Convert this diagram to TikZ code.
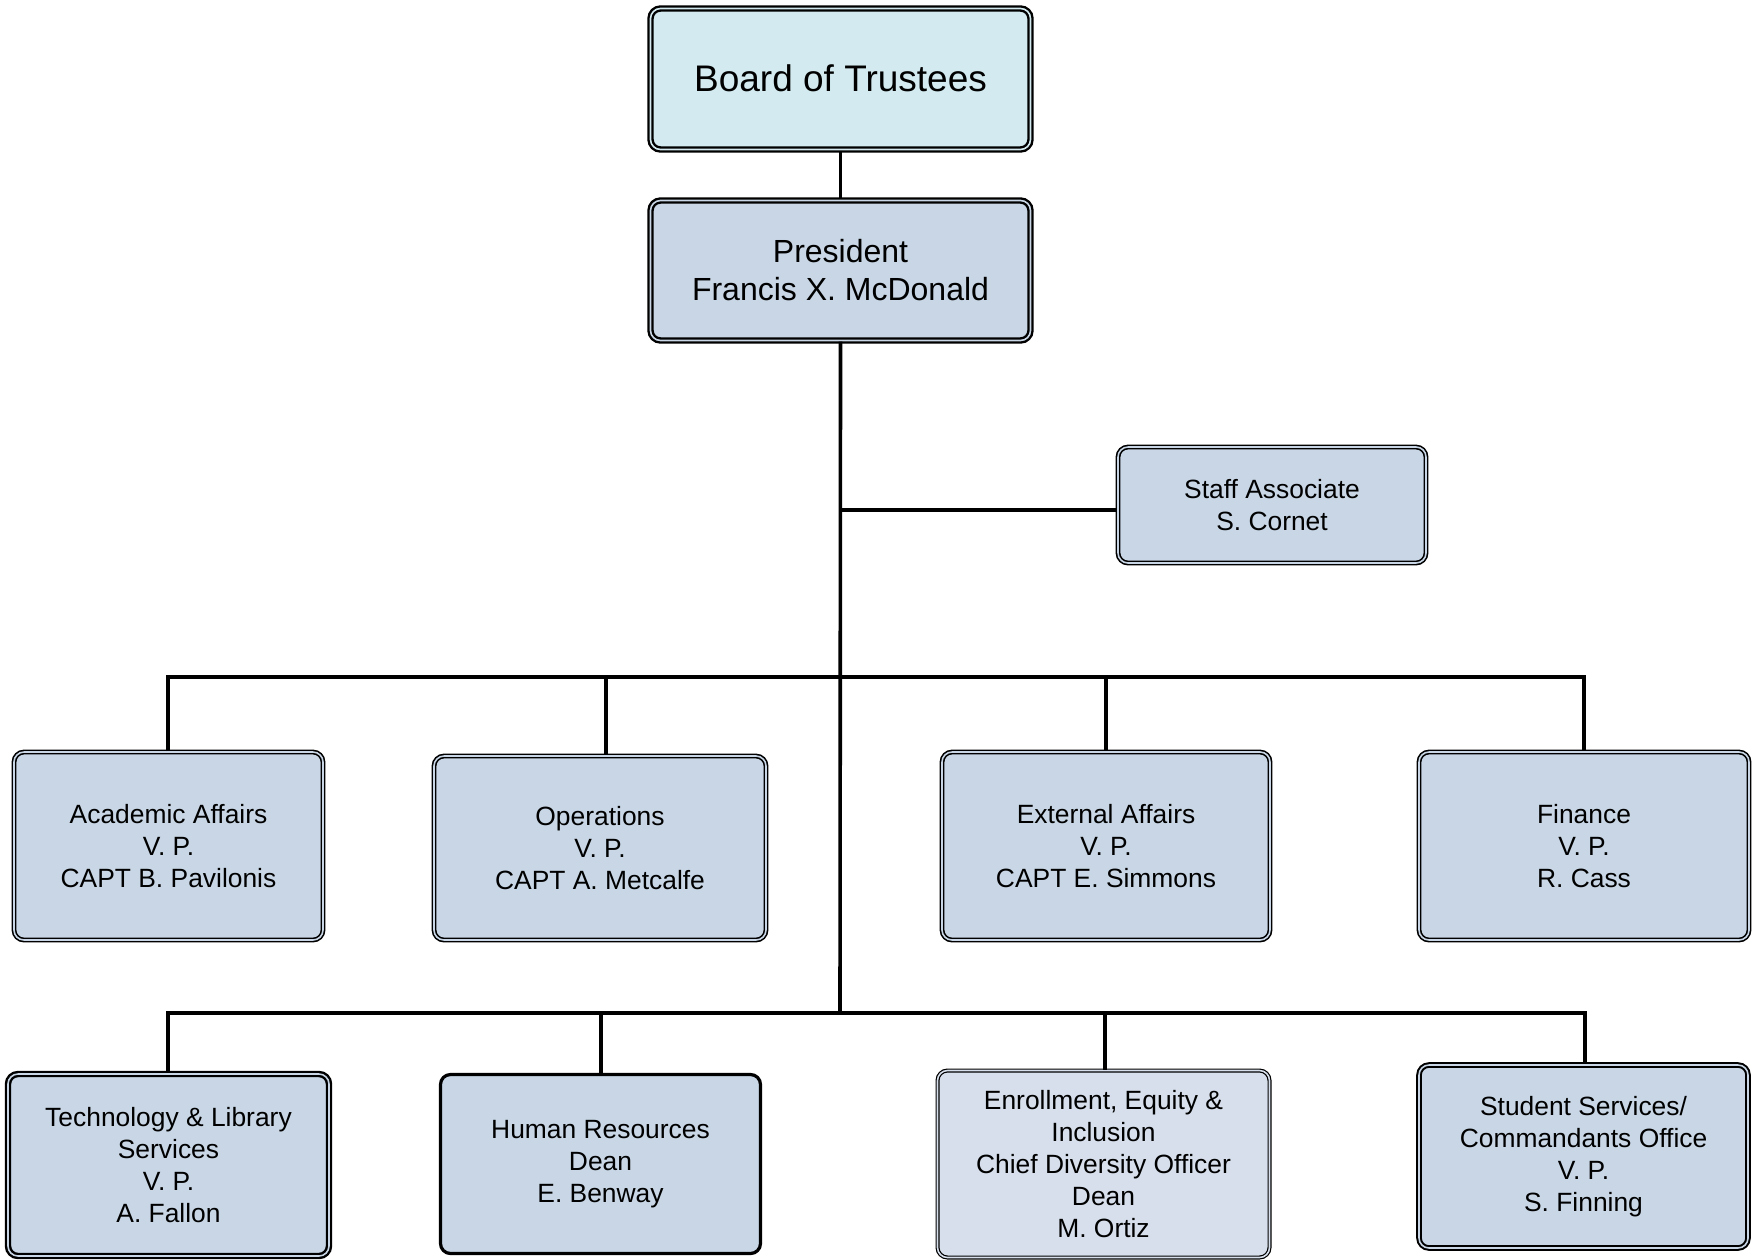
\documentclass[tikz,border=0pt]{standalone}
\usepackage{fontspec}
\setmainfont{Liberation Sans}
\definecolor{boardfill}{RGB}{211,235,240}
\definecolor{boxfill}{RGB}{200,214,229}
\definecolor{lightfill}{RGB}{214,223,235}
\tikzset{
  box/.style={draw=black, fill=boxfill, rounded corners=5pt, inner sep=0pt, align=center,
    font=\fontsize{13.2}{16}\selectfont},
  dbthick/.style={box, line width=1.2pt, double=#1, double distance=0.8pt},
  dbthin/.style={box, line width=0.8pt, double=#1, double distance=0.8pt},
  single/.style={box, line width=1.6pt},
  conn/.style={draw=black, line width=1.8pt, line join=miter},
}
\begin{document}
\begin{tikzpicture}[x=0.5pt,y=-0.5pt]
\useasboundingbox (0,0) rectangle (1764,1259);
% top
\node[dbthick=boardfill, fill=boardfill, minimum width=190pt, minimum height=70.5pt,
  font=\fontsize{18.5}{22}\selectfont] (board) at (840.5,79) {\raisebox{1pt}{Board of Trustees}};
\node[dbthick=boxfill, minimum width=190pt, minimum height=70pt,
  font=\fontsize{16}{19}\selectfont] (pres) at (840.5,270.5) {President\\Francis X. McDonald};
\node[dbthin=boxfill, minimum width=154pt, minimum height=58pt] (staff) at (1272,505) {Staff Associate\\S. Cornet};
% row 1
\node[dbthin=boxfill, minimum width=154.5pt, minimum height=94pt] (acad) at (168.5,846) {Academic Affairs\\V. P.\\CAPT B. Pavilonis};
\node[dbthin=boxfill, minimum width=166pt, minimum height=92pt] (ops) at (600,848) {Operations\\V. P.\\CAPT A. Metcalfe};
\node[dbthin=boxfill, minimum width=164pt, minimum height=94pt] (ext) at (1106,846) {External Affairs\\V. P.\\CAPT E. Simmons};
\node[dbthin=boxfill, minimum width=165pt, minimum height=94pt] (fin) at (1584,846) {Finance\\V. P.\\R. Cass};
% row 2
\node[dbthick=boxfill, minimum width=160.5pt, minimum height=91pt] (tech) at (168.5,1165) {Technology \& Library\\Services\\V. P.\\A. Fallon};
\node[single, minimum width=160pt, minimum height=89.5pt] (hr) at (600.5,1164) {Human Resources\\Dean\\E. Benway};
\node[box, fill=lightfill, line width=0.6pt, double=lightfill, double distance=0.8pt, minimum width=166pt, minimum height=93.5pt] (enr) at (1103.5,1164) {Enrollment, Equity \&\\Inclusion\\Chief Diversity Officer\\Dean\\M. Ortiz};
\node[dbthick=boxfill, line width=1pt, minimum width=164.5pt, minimum height=91.5pt] (stud) at (1583.5,1156.5) {Student Services/\\Commandants Office\\V. P.\\S. Finning};
% junction coordinates
\coordinate (js) at (840,510);
\coordinate (jt) at (840,677);
\coordinate (jb) at (840,1013);
\coordinate (ta) at (168,677);
\coordinate (to) at (606,677);
\coordinate (te) at (1106,677);
\coordinate (tf) at (1584,677);
\coordinate (ba) at (168,1013);
\coordinate (bh) at (601,1013);
\coordinate (be) at (1105,1013);
\coordinate (bs) at (1585,1013);
% connectors
\draw[conn] (board.south) -- (pres.north);
\draw[conn] (pres.south) -- (jb);
\draw[conn] (js) -- (js -| staff.west);
\draw[conn] (ta |- acad.north) -- (ta) -- (tf) -- (tf |- fin.north);
\draw[conn] (to) -- (to |- ops.north);
\draw[conn] (te) -- (te |- ext.north);
\draw[conn] (ba |- tech.north) -- (ba) -- (bs) -- (bs |- stud.north);
\draw[conn] (bh) -- (bh |- hr.north);
\draw[conn] (be) -- (be |- enr.north);
\end{tikzpicture}
\end{document}
